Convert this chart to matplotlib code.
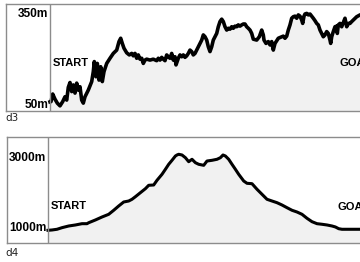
import matplotlib
matplotlib.use("Agg")
import matplotlib.pyplot as plt

# d3 profile: distance along route, elevation (m)
d3_dist = [0, 1, 2.7, 5, 7.3, 10, 12.7, 15, 16.7, 18.3, 20, 21.7, 23.3, 25, 26.7, 28.3, 30,
           31.7, 33.3, 35, 38.3, 41.7, 43.3, 44.3, 46, 47.3, 49, 50.7, 52.3, 54, 56.7, 60,
           63.3, 66.7, 69, 70.7, 72.3, 74, 76.7, 79.3, 81.7, 83.3, 85, 86.7, 88.3, 90, 91.7,
           93.3, 95, 96.7, 100, 103.3, 106.7, 108.3, 110, 111.7, 113.3, 115, 116.7, 118.3,
           120, 121.7, 123.3, 125, 126, 128.3, 130, 131.7, 133.3, 135, 136.7, 138.3, 140,
           141.7, 143.3, 145, 146.7, 148.3, 150, 151.7, 153.3, 155, 156.7, 158.3, 160, 161.7,
           163.3, 165, 166.7, 168.3, 170, 171.7, 173.3, 175, 176.7, 178.3, 180, 181.7, 183.3,
           185, 186.7, 188.3, 190, 191.7, 193.3, 195, 196.7, 198.3, 200, 201.7, 203.3, 206.7,
           209.3, 211.7, 213.3, 214, 216, 218.3, 220, 221.7, 223.3, 225, 228.3, 231.7, 233.3,
           235, 236.7, 238.3, 240, 241.7, 243.3, 245, 246.7, 248.3, 250, 251.7, 252.7, 254,
           255, 256.7, 258.3, 260, 261.7, 263.3, 265, 266.7, 268.3, 270, 271.7, 273.3, 275,
           276.7, 278.3, 280, 280.7, 281.7, 283.3, 285, 286.7, 287.3, 288.3, 290, 291.7, 293.3,
           295, 296.7, 298.3, 300, 301.7, 303.3, 306.7, 310, 315]
d3_elev = [60, 61, 86, 69, 56, 47, 61, 77, 66, 108, 124, 94, 116, 89, 122, 99, 110,
           66, 56, 77, 99, 127, 160, 193, 143, 187, 132, 176, 127, 160, 187, 204,
           220, 231, 259, 270, 253, 237, 222, 215, 220, 212, 220, 204, 215, 201, 204,
           187, 198, 201, 198, 201, 196, 204, 198, 207, 201, 196, 215, 209,
           204, 220, 198, 209, 182, 204, 215, 209, 215, 207, 212, 220, 231,
           226, 215, 220, 231, 242, 253, 264, 281, 275, 264, 242, 226, 242,
           264, 275, 286, 308, 325, 333, 325, 308, 297, 303, 300, 308, 303,
           310, 308, 314, 310, 314, 317, 317, 308, 303, 297, 286, 267, 264,
           275, 297, 281, 264, 253, 259, 248, 259, 231, 253, 270, 275, 277,
           270, 277, 297, 314, 336, 341, 343, 336, 347, 343, 330, 319, 343,
           350, 352, 347, 350, 343, 336, 328, 319, 314, 297, 286, 275, 281,
           292, 286, 264, 253, 275, 292, 308, 310, 286, 314, 319, 308, 322,
           336, 308, 319, 319, 325, 330, 341, 347, 350]

# d4 profile
d4_dist = [0, 4, 9, 14, 20.7, 27.4, 34, 39, 40.7, 47.4, 54, 60.7, 65.7, 70.7, 75.7, 80.7,
           84, 87.4, 92.4, 97.4, 100.7, 105.7, 109, 114, 117.4, 120.7, 124, 127.4, 129,
           130.7, 134, 137.4, 140.7, 144, 147.4, 150.7, 155.7, 159, 164, 169, 172.4, 175,
           177.4, 180.7, 184, 187.4, 190.7, 195.7, 199, 204, 209, 214, 219, 224, 229, 234,
           239, 244, 249, 254, 259, 264, 269, 274, 279, 284, 287.4, 290.7, 294, 300.7,
           307.4, 315]
d4_elev = [934, 943, 963, 1009, 1057, 1086, 1123, 1123, 1151, 1229, 1314, 1391, 1506,
           1629, 1743, 1771, 1820, 1894, 2009, 2123, 2220, 2229, 2363, 2534, 2677, 2820,
           2934, 3057, 3086, 3106, 3086, 3009, 2894, 2963, 2866, 2820, 2791, 2914, 2934,
           2963, 3009, 3086, 3057, 2963, 2820, 2677, 2534, 2343, 2277, 2266, 2106, 1963,
           1820, 1771, 1723, 1657, 1580, 1506, 1457, 1391, 1277, 1180, 1123, 1106, 1086,
           1057, 1029, 980, 963, 963, 963, 963]

d3_ticks = [50, 350]
d4_ticks = [1000, 3000]

W, H = 360, 262
FRAME = "#8c8c8c"
FILL = "#f1f1f1"
BOLD = dict(family=["Liberation Sans", "DejaVu Sans"], weight="bold")


def panel(fig, box, dist, elev, ticks, xlim, ylim, lw, start_y, goal_y, name, name_y):
    x0, y0, x1, y1 = box  # pixel box, y measured from top
    ax = fig.add_axes([x0 / W, 1 - y1 / H, (x1 - x0) / W, (y1 - y0) / H])
    ax.fill_between(dist, elev, ylim[0], color=FILL, lw=0)
    ax.plot(dist, elev, color="black", lw=lw, solid_joinstyle="round")
    ax.axvline(0, color=FRAME, lw=1)
    ax.set_xlim(xlim)
    ax.set_ylim(ylim)
    ax.set_xticks([])
    ax.set_yticks([])
    for s in ax.spines.values():
        s.set_color(FRAME)
        s.set_linewidth(1)
    for t in ticks:
        ax.text(-1.5, t, f"{t}m", ha="right", va="center", fontsize=8.6, **BOLD)
    ax.text(3, start_y, "START", ha="left", va="center", fontsize=8, **BOLD)
    ax.text(289, goal_y, "GOAL", ha="left", va="center", fontsize=8, **BOLD)
    fig.text(5 / W, 1 - name_y / H, name, ha="left", va="center", fontsize=7.5,
             color="#222222")
    return ax


fig = plt.figure(figsize=(W / 100, H / 100), dpi=100)
panel(fig, (6, 4, 382, 111), d3_dist, d3_elev, d3_ticks, (-44, 332), (30, 383), 2.6,
      187, 187, "d3", 118)
panel(fig, (7, 137, 383, 243), d4_dist, d4_elev, d4_ticks, (-41, 335), (571, 3600), 2.2,
      1629, 1600, "d4", 253)
fig.savefig("out.png", dpi=100)
